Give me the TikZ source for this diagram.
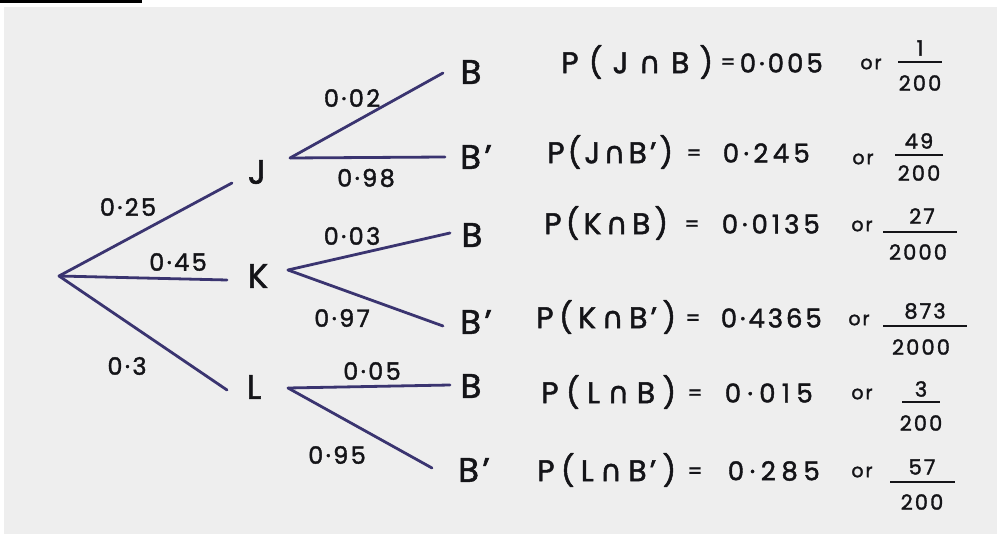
\documentclass[tikz,border=0pt]{standalone}
\usepackage{fontspec}
\setmainfont{Poppins}
\newfontfamily\hand[LetterSpace=10,FakeBold=1.6]{Poppins}
\newfontfamily\symf[FakeBold=1.6]{DejaVu Sans}
\newcommand\capsym{{\symf\char"2229}}
\newcommand\spreadbox[2]{\makebox[#1][s]{#2}}
\definecolor{paper}{RGB}{238,238,238}
\definecolor{ink}{RGB}{20,20,24}
\definecolor{linec}{RGB}{58,52,112}
\begin{document}
\begin{tikzpicture}[x=1pt,y=-1pt,
  branch/.style={draw=linec, line width=2.8pt, line cap=round},
  tl/.style={font=\hand\fontsize{34}{34}\selectfont, inner sep=0pt, text=ink},
  pl/.style={font=\hand\fontsize{24}{24}\selectfont, inner sep=0pt, text=ink},
  lhs/.style={font=\hand\fontsize{30}{30}\selectfont, inner sep=0pt, text=ink, anchor=west},
  eqs/.style={font=\hand\fontsize{21}{21}\selectfont, inner sep=0pt, text=ink},
  rhs/.style={font=\hand\fontsize{26}{26}\selectfont, inner sep=0pt, text=ink, anchor=east},
  orl/.style={font=\hand\fontsize{19}{19}\selectfont, inner sep=0pt, text=ink},
  fr/.style={font=\hand\fontsize{21}{21}\selectfont, inner sep=0pt, text=ink},
  bar/.style={draw=ink, line width=1.9pt}]
\useasboundingbox (0,0) rectangle (997,537);
\fill[white] (0,0) rectangle (997,537);
\fill[paper] (4,7) rectangle (997,534);
\fill[black] (0,0) rectangle (142,3);

% first level
\coordinate (r) at (59,276);
\coordinate (rj) at (232,183);
\coordinate (rk) at (227,280);
\coordinate (rl) at (227,390);
\node[tl] (J) at (257,172) {J};
\node[tl] (K) at (258,276) {K};
\node[tl] (L) at (254,387) {L};
\draw[branch] (r) -- (rj);
\draw[branch] (r) -- (rk);
\draw[branch] (r) -- (rl);
\node[pl] (p25) at (128,207) {0·25};
\node[pl] (p45) at (178,262) {0·45};
\node[pl] (p3) at (127,366) {0·3};

% J fan
\coordinate (js) at (290,158);
\coordinate (jb) at (443,73);
\coordinate (jbp) at (445,157);
\draw[branch] (js) -- (jb);
\draw[branch] (js) -- (jbp);
\node[tl] (B1) at (471,72) {B};
\node[tl] (B2) at (476,157) {B’};
\node[pl] (p02) at (352,98) {0·02};
\node[pl] (p98) at (366,178) {0·98};

% K fan
\coordinate (ks) at (288,270);
\coordinate (kb) at (450,233);
\coordinate (kbp) at (443,326);
\draw[branch] (ks) -- (kb);
\draw[branch] (ks) -- (kbp);
\node[tl] (B3) at (472,235) {B};
\node[tl] (B4) at (476,322) {B’};
\node[pl] (p03) at (352,236) {0·03};
\node[pl] (p97) at (342,318) {0·97};

% L fan
\coordinate (ls) at (288,388);
\coordinate (lb) at (450,385);
\coordinate (lbp) at (432,468);
\draw[branch] (ls) -- (lb);
\draw[branch] (ls) -- (lbp);
\node[tl] (B5) at (471,386) {B};
\node[tl] (B6) at (474,470) {B’};
\node[pl] (p05) at (372,371) {0·05};
\node[pl] (p95) at (337,455) {0·95};

% results
\node[lhs] (l1) at (561,62) {\spreadbox{152pt}{P\hfill(\hfill J\hfill\capsym\hfill B\hfill)}};
\node[eqs] (q1) at (728,64) {=};
\node[rhs] (e1) at (823,63) {\spreadbox{83pt}{0\hfill·\hfill0\hfill0\hfill5}};
\node[orl] (o1) at (871,64) {or};
\node[fr] (n1) at (920,48) {1};
\draw[bar] (898,62) -- (942,62);
\node[fr] (d1) at (920,83) {200};

\node[lhs] (l2) at (547,152) {\spreadbox{126pt}{P\hfill(\hfill J\hfill\capsym\hfill B’\hfill)}};
\node[eqs] (q2) at (694,155) {=};
\node[rhs] (e2) at (810,153) {\spreadbox{87pt}{0\hfill·\hfill2\hfill4\hfill5}};
\node[orl] (o2) at (863,159) {or};
\node[fr] (n2) at (919,141) {49};
\draw[bar] (895,155) -- (943,155);
\node[fr] (d2) at (919,173) {200};

\node[lhs] (l3) at (544,223) {\spreadbox{124pt}{P\hfill(\hfill K\hfill\capsym\hfill B\hfill)}};
\node[eqs] (q3) at (692,226) {=};
\node[rhs] (e3) at (820,224) {\spreadbox{98pt}{0\hfill·\hfill0\hfill1\hfill3\hfill5}};
\node[orl] (o3) at (862,226) {or};
\node[fr] (n3) at (922,216) {27};
\draw[bar] (883,232) -- (957,232);
\node[fr] (d3) at (918,252) {2000};

\node[lhs] (l4) at (536,317) {\spreadbox{140pt}{P\hfill(\hfill K\hfill\capsym\hfill B’\hfill)}};
\node[eqs] (q4) at (693,320) {=};
\node[rhs] (e4) at (822,318) {\spreadbox{101pt}{0\hfill·\hfill4\hfill3\hfill6\hfill5}};
\node[orl] (o4) at (859,320) {or};
\node[fr] (n4) at (925,311) {873};
\draw[bar] (883,326) -- (967,326);
\node[fr] (d4) at (921,347) {2000};

\node[lhs] (l5) at (541,392) {\spreadbox{135pt}{P\hfill(\hfill L\hfill\capsym\hfill B\hfill)}};
\node[eqs] (q5) at (695,395) {=};
\node[rhs] (e5) at (813,393) {\spreadbox{88pt}{0\hfill·\hfill0\hfill1\hfill5}};
\node[orl] (o5) at (862,394) {or};
\node[fr] (n5) at (921,389) {3};
\draw[bar] (902,402) -- (940,402);
\node[fr] (d5) at (921,423) {200};

\node[lhs] (l6) at (537,470) {\spreadbox{139pt}{P\hfill(\hfill L\hfill\capsym\hfill B’\hfill)}};
\node[eqs] (q6) at (695,473) {=};
\node[rhs] (e6) at (820,471) {\spreadbox{92pt}{0\hfill·\hfill2\hfill8\hfill5}};
\node[orl] (o6) at (862,472) {or};
\node[fr] (n6) at (922,467) {57};
\draw[bar] (890,482) -- (955,482);
\node[fr] (d6) at (922,502) {200};
\end{tikzpicture}
\end{document}
